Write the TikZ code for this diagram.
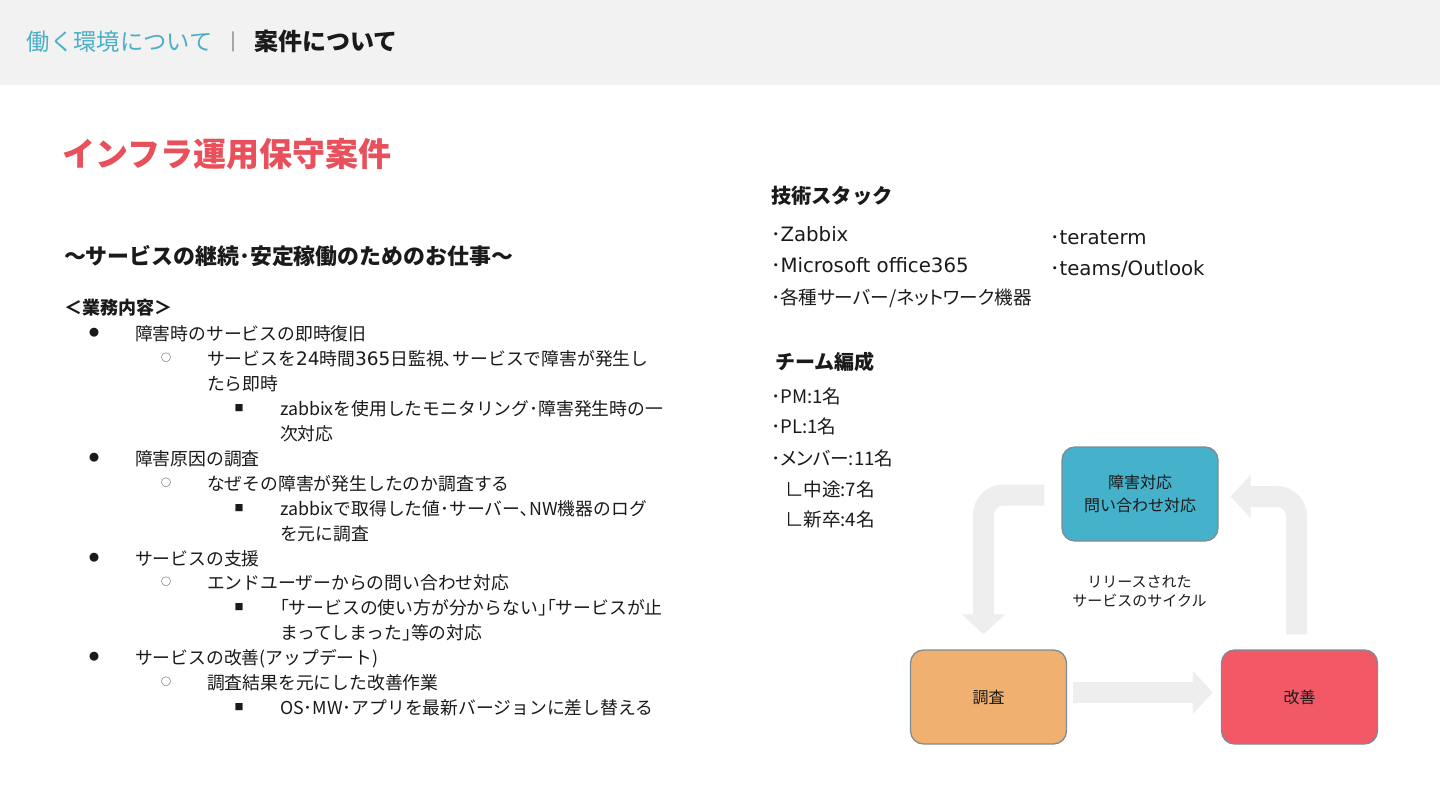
\documentclass[tikz,border=0pt]{standalone}
\usepackage{fontspec}
\setmainfont{Noto Sans CJK JP}
\newfontfamily\latf[Scale=1.04]{DejaVu Sans}
\usetikzlibrary{arrows.meta,calc}
\definecolor{hdrgray}{HTML}{F2F2F2}
\definecolor{hteal}{HTML}{4BAFC6}
\definecolor{tred}{HTML}{E8505B}
\definecolor{boxteal}{HTML}{45B1CB}
\definecolor{boxorange}{HTML}{F0B06F}
\definecolor{boxred}{HTML}{F25865}
\definecolor{arrgray}{HTML}{EEEEEE}
\definecolor{bordergray}{HTML}{7F8C94}
\definecolor{txtdark}{HTML}{1A1A1A}
\newcommand{\setfs}[1]{\fontsize{#1}{#1}\selectfont}
\newcommand{\lt}[1]{{\latf #1}}
\begin{document}
\begin{tikzpicture}[x=1pt,y=-1pt,
  txt/.style={anchor=base west, inner sep=0pt, outer sep=0pt, text=txtdark},
  li/.style={txt, font=\setfs{17.8}},
  rt/.style={txt, font=\setfs{19}},
  rtp/.style={txt, font=\setfs{18.6}\addfontfeatures{RawFeature=+palt}},
  bul/.style={anchor=center, inner sep=0pt, text=txtdark},
  box/.style={draw=bordergray, line width=1.3pt, rounded corners=13pt,
    minimum width=156pt, minimum height=94pt, inner sep=0pt, align=center,
    text=txtdark, font=\fontsize{16}{23}\selectfont},
  cyc/.style={draw=arrgray, line width=21pt, rounded corners=20pt,
    -{Triangle[width=42pt,length=20pt]}}]
\useasboundingbox (0,0) rectangle (1440,810);
\fill[white] (0,0) rectangle (1440,810);
\fill[hdrgray] (0,0) rectangle (1440,85);
% header
\node[txt, font=\setfs{23.3}, text=hteal] (h1) at (27,51) {働く環境について};
\node[txt, font=\setfs{20}, text=darkgray] (hsep) at (223,50) {｜};
\node[txt, font=\bfseries\setfs{24}] (h2) at (254,51) {案件について};
% title
\node[txt, font=\bfseries\setfs{33}, text=tred] (title) at (62,167) {インフラ運用保守案件};
\node[txt, font=\bfseries\setfs{21.9}] (sub) at (64,265) {～サービスの継続･安定稼働のためのお仕事～};
\node[txt, font=\bfseries\setfs{18}] (gyomu) at (64,314) {＜業務内容＞};
% list
\node[bul, font=\setfs{10}] (b1) at (94,333) {●};
\node[li] (l1) at (135,340) {障害時のサービスの即時復旧};
\node[bul, font=\setfs{10}] (c1) at (166,358) {○};
\node[li] (l2) at (207,365) {サービスを\lt{24}時間\lt{365}日監視､サービスで障害が発生し};
\node[li] (l3) at (207,390) {たら即時};
\node[bul, font=\setfs{9}] (s1) at (239,408) {■};
\node[li] (l4) at (280,415) {zabbixを使用したモニタリング･障害発生時の一};
\node[li] (l5) at (280,440) {次対応};
\node[bul, font=\setfs{10}] (b2) at (94,458) {●};
\node[li] (l6) at (135,465) {障害原因の調査};
\node[bul, font=\setfs{10}] (c2) at (166,483) {○};
\node[li] (l7) at (207,490) {なぜその障害が発生したのか調査する};
\node[bul, font=\setfs{9}] (s2) at (239,508) {■};
\node[li] (l8) at (280,515) {zabbixで取得した値･サーバー､NW機器のログ};
\node[li] (l9) at (280,540) {を元に調査};
\node[bul, font=\setfs{10}] (b3) at (94,558) {●};
\node[li] (l10) at (135,565) {サービスの支援};
\node[bul, font=\setfs{10}] (c3) at (166,582) {○};
\node[li] (l11) at (207,589) {エンドユーザーからの問い合わせ対応};
\node[bul, font=\setfs{9}] (s3) at (239,607) {■};
\node[li] (l12) at (280,614) {｢サービスの使い方が分からない｣｢サービスが止};
\node[li] (l13) at (280,639) {まってしまった｣等の対応};
\node[bul, font=\setfs{10}] (b4) at (94,657) {●};
\node[li] (l14) at (135,664) {サービスの改善(アップデート)};
\node[bul, font=\setfs{10}] (c4) at (166,682) {○};
\node[li] (l15) at (207,689) {調査結果を元にした改善作業};
\node[bul, font=\setfs{9}] (s4) at (239,707) {■};
\node[li] (l16) at (280,714) {OS･MW･アプリを最新バージョンに差し替える};
% right column
\node[txt, font=\bfseries\setfs{20.3}] (tech) at (771,204) {技術スタック};
\node[rt] (t1) at (771,242) {･\lt{Zabbix}};
\node[rt] (t2) at (771,273) {･\lt{Microsoft office365}};
\node[rtp] (t3) at (771,305) {･各種サーバー/ネットワーク機器};
\node[rt] (t4) at (1050,245) {･\lt{teraterm}};
\node[rt] (t5) at (1050,276) {･\lt{teams/Outlook}};
\node[txt, font=\bfseries\setfs{20}] (team) at (775,369) {チーム編成};
\node[rtp] (m1) at (771,403) {･PM:1名};
\node[rtp] (m2) at (771,433) {･PL:1名};
\node[rtp] (m3) at (771,465) {･メンバー:11名};
\node[rtp] (m4) at (785,496) {∟中途:7名};
\node[rtp] (m5) at (785,526) {∟新卒:4名};
% cycle diagram
\node[box, fill=boxteal] (top) at (1140,494) {障害対応\\問い合わせ対応};
\node[box, fill=boxorange] (inv) at (988.5,697) {調査};
\node[box, fill=boxred] (imp) at (1299.5,697) {改善};
\node[inner sep=0pt, align=center, text=txtdark, font=\fontsize{15}{19}\selectfont] (cycle) at (1139.5,591) {リリースされた\\サービスのサイクル};
\draw[cyc] ($(top.west)+(-17,1)$) -| ($(inv.north)+(-5,-15)$);
\draw[cyc] ($(imp.north)+(-3,-15)$) |- ($(top.east)+(12,2.5)$);
\draw[cyc, rounded corners=0pt] ($(inv.east)+(6,-4.5)$) -- ($(imp.west)+(-8,-4.5)$);
\end{tikzpicture}
\end{document}
